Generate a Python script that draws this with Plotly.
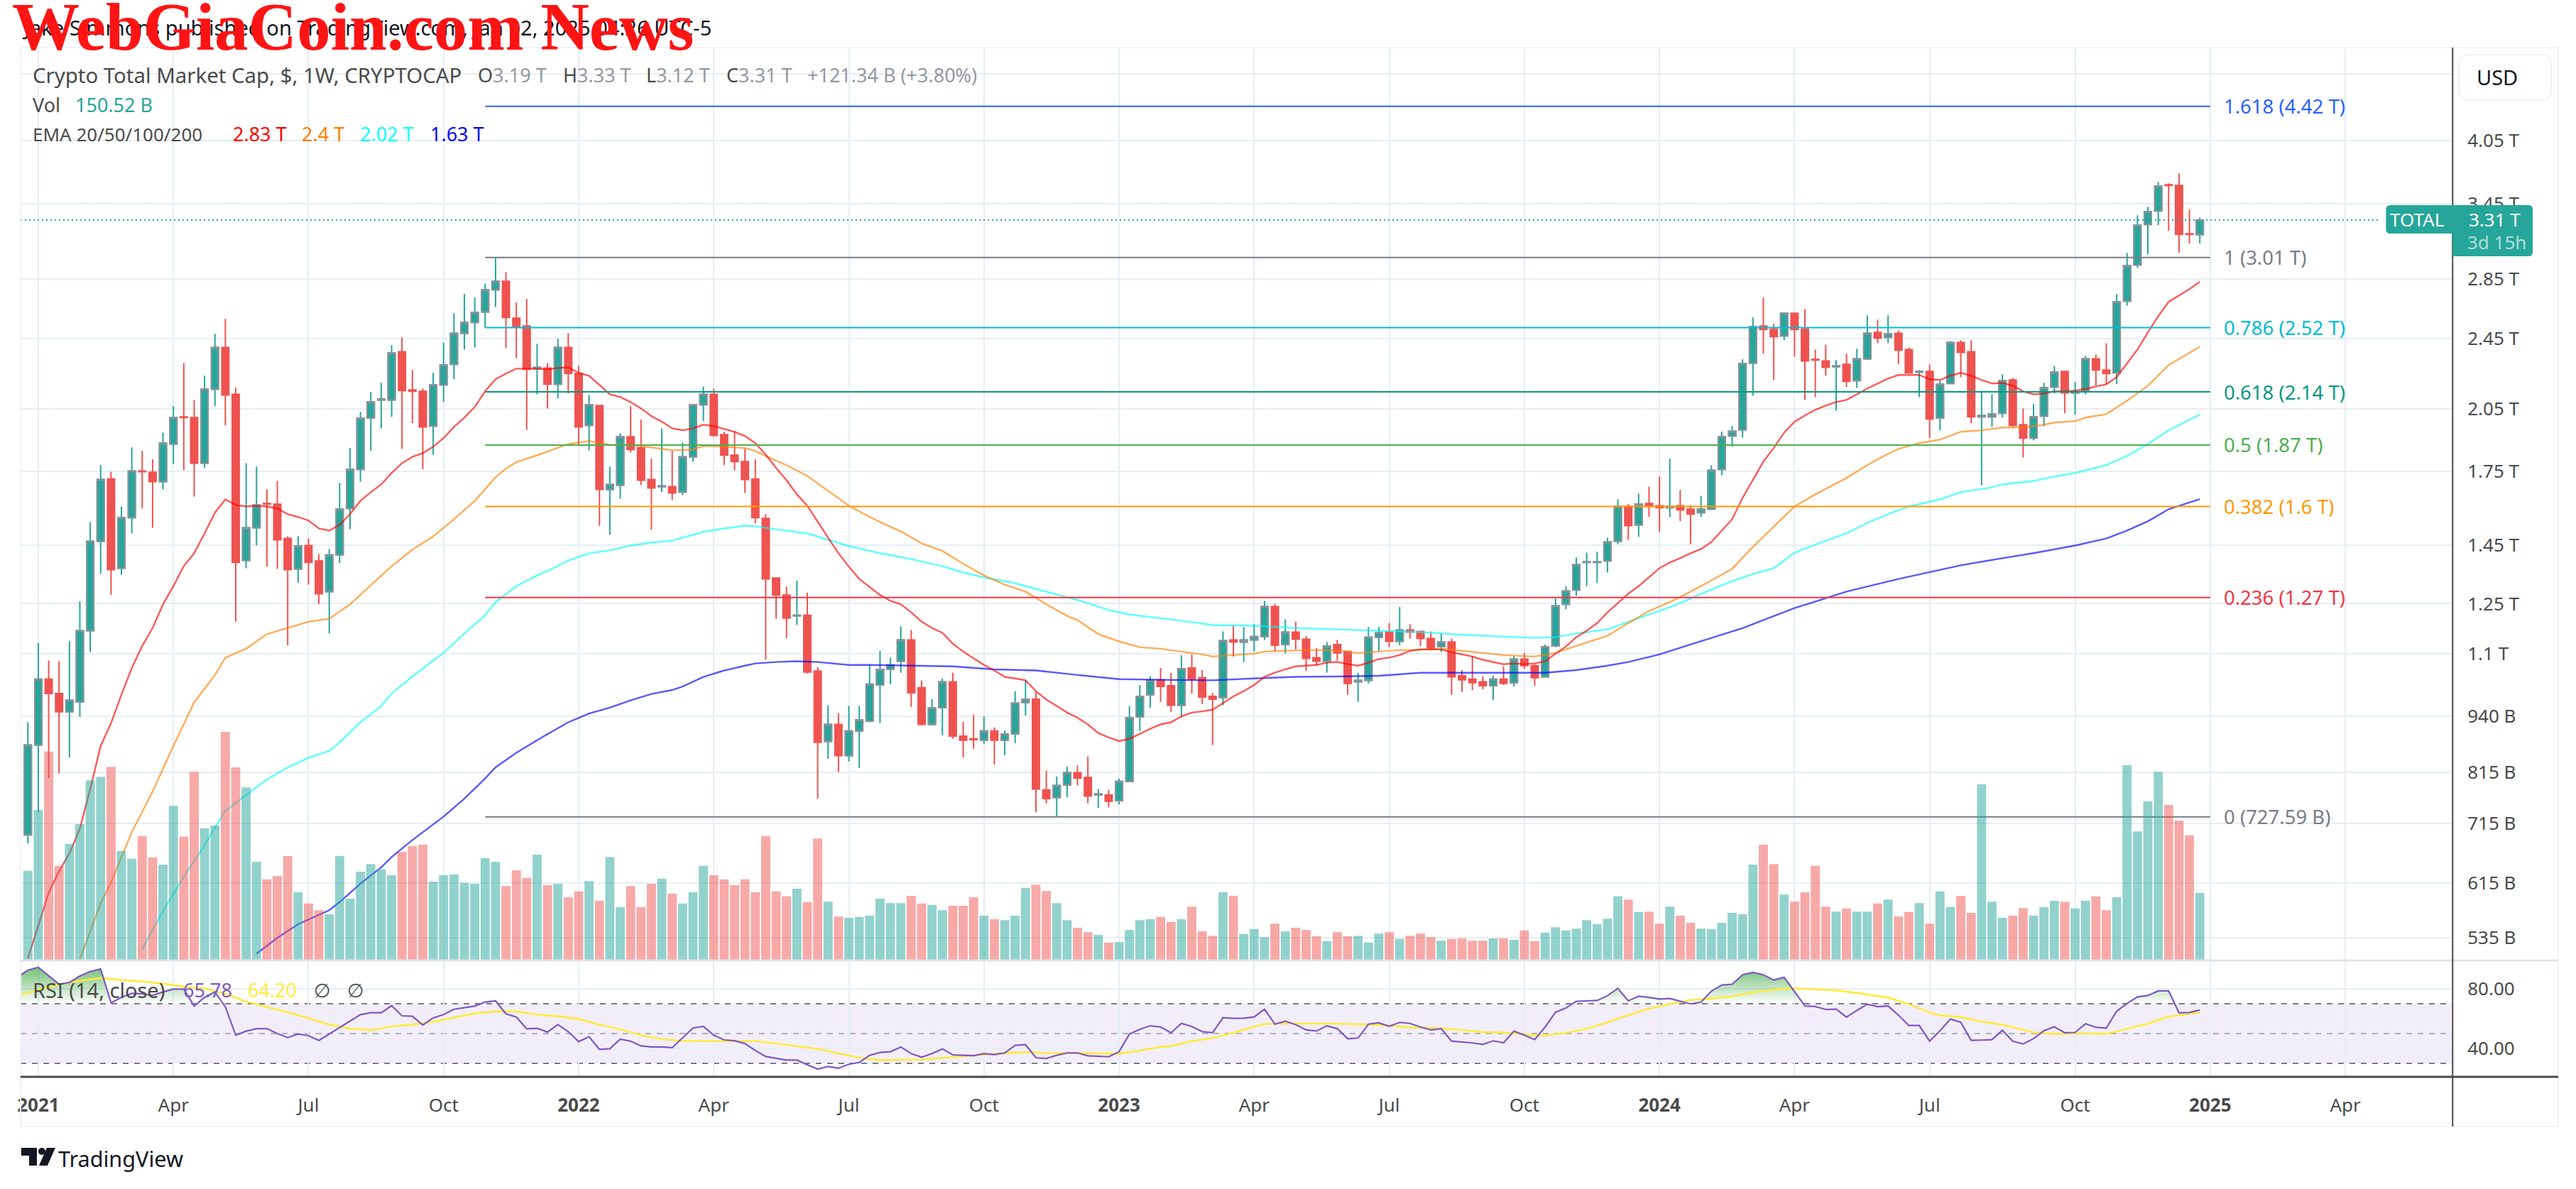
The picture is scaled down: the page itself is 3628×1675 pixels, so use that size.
import math
import pandas as pd
import plotly.graph_objects as go

W, H = 3628, 1675
FIRST_WEEK = pd.Timestamp("2020-12-28")

directions = ("GGRRGGGGRG" "GRRGGRRGGR" "RGGRRRGRRG" "GGGGGGRRRG" "GGGGGGRRRG"
              "RGRRGRGGRR" "RGRGGGRRRR" "RRRRGRRGRG" "GGGGGRRGGR" "RRGRGGGRRG"
              "GRRGRGGGGR" "RGRRRGRGGG" "RGRRRGRRGG" "GRGRRRGRRR" "RGRGRRGGGG"
              "GGGGRGRRGR" "RGGGGGGRRG" "RRRRGRGGRG" "RRGRGGRRGG" "GRRGGGRGGR"
              "RGGGGGRRRG")

highs = [.925,1.131,1.082,1.080,1.136,1.257,1.538,1.777,1.748,1.600,
 1.859,1.842,1.803,1.930,2.064,2.303,2.097,2.230,2.480,2.576,
 2.163,1.786,1.770,1.671,1.707,1.483,1.483,1.475,1.418,1.436,
 1.698,1.856,2.034,2.139,2.190,2.409,2.458,2.262,2.159,2.246,
 2.426,2.613,2.743,2.719,2.818,3.008,2.901,2.685,2.709,2.418,
 2.303,2.449,2.484,2.286,2.123,2.071,1.770,1.927,2.064,1.994,
 1.806,1.951,1.842,1.882,2.075,2.170,2.159,1.934,1.937,1.852,
 1.803,1.569,1.336,1.305,1.326,1.285,1.064,.966,.946,.964,
 .964,1.070,1.109,1.090,1.180,1.169,1.029,.981,1.034,1.049,
 .926,.943,.939,.913,.906,1.001,1.029,.999,.818,.806,
 .827,.829,.848,.781,.779,.802,.964,1.017,1.039,1.062,
 1.049,1.097,1.099,1.056,.997,1.165,1.182,1.178,1.186,1.259,
 1.250,1.201,1.194,1.152,1.117,1.134,1.140,1.109,1.049,1.178,
 1.178,1.190,1.239,1.186,1.167,1.165,1.159,1.144,1.056,1.095,
 1.039,1.041,1.066,1.095,1.103,1.072,1.127,1.268,1.307,1.405,
 1.423,1.426,1.478,1.629,1.609,1.653,1.683,1.726,1.806,1.668,
 1.606,1.644,1.777,1.934,1.962,2.324,2.585,2.719,2.544,2.618,
 2.618,2.641,2.383,2.413,2.320,2.358,2.387,2.599,2.571,2.599,
 2.502,2.396,2.262,2.295,2.202,2.435,2.440,2.440,2.147,2.127,
 2.238,2.218,2.052,2.075,2.190,2.286,2.258,2.194,2.345,2.353,
 2.422,2.743,3.046,3.351,3.424,3.647,3.634,3.727,3.399,3.33]

body_tops = [.873,1.032,1.032,.995,.978,1.167,1.465,1.713,1.716,1.555,
 1.751,1.751,1.745,1.879,2.005,2.009,2.005,2.155,2.396,2.396,
 2.127,1.516,1.606,1.612,1.609,1.475,1.447,1.449,1.393,1.415,
 1.589,1.758,2.002,2.086,2.101,2.362,2.370,2.151,2.143,2.178,
 2.291,2.484,2.553,2.618,2.773,2.834,2.834,2.580,2.530,2.278,
 2.274,2.396,2.396,2.242,2.071,2.067,1.692,1.910,1.910,1.856,
 1.713,1.686,1.683,1.815,2.071,2.127,2.127,1.920,1.822,1.793,
 1.716,1.552,1.334,1.278,1.214,1.214,1.053,.920,.920,.905,
 .931,1.019,1.058,1.070,1.140,1.140,1.010,.960,1.025,1.025,
 .893,.887,.905,.905,.898,.971,.981,.981,.779,.788,
 .814,.814,.804,.771,.769,.796,.936,.988,1.029,1.030,
 1.015,1.060,1.062,1.036,.988,1.138,1.140,1.140,1.150,1.241,
 1.241,1.163,1.163,1.142,1.090,1.123,1.127,1.107,1.029,1.148,
 1.161,1.163,1.169,1.169,1.165,1.144,1.134,1.134,1.041,1.032,
 1.025,1.032,1.032,1.086,1.086,1.068,1.121,1.243,1.291,1.380,
 1.390,1.390,1.462,1.600,1.600,1.609,1.612,1.603,1.600,1.603,
 1.589,1.589,1.754,1.910,1.937,2.299,2.525,2.530,2.511,2.613,
 2.613,2.511,2.324,2.315,2.286,2.295,2.328,2.484,2.489,2.480,
 2.484,2.383,2.254,2.254,2.182,2.426,2.426,2.370,2.016,2.023,
 2.202,2.206,1.969,2.009,2.163,2.250,2.254,2.139,2.328,2.328,
 2.262,2.690,2.949,3.268,3.381,3.608,3.621,3.615,3.198,3.31]

body_bottoms = [.695,.873,.995,.950,.950,.974,1.167,1.465,1.363,1.368,
 1.555,1.748,1.704,1.704,1.875,2.005,1.786,1.786,2.155,2.123,
 1.388,1.395,1.516,1.609,1.470,1.363,1.365,1.388,1.282,1.289,
 1.415,1.592,1.758,2.002,2.097,2.097,2.147,2.143,1.958,1.962,
 2.178,2.295,2.484,2.553,2.622,2.773,2.585,2.525,2.266,2.270,
 2.182,2.182,2.242,1.958,1.966,1.671,1.671,1.689,1.849,1.710,
 1.677,1.683,1.656,1.659,1.815,2.071,1.917,1.822,1.793,1.713,
 1.555,1.331,1.278,1.205,1.212,1.051,.879,.881,.850,.850,
 .905,.928,1.017,1.058,1.080,.997,.920,.920,.960,.893,
 .884,.885,.884,.884,.884,.898,.973,.781,.762,.764,
 .789,.803,.767,.769,.757,.758,.796,.938,.992,1.013,
 .966,.966,1.032,.986,.981,.985,1.134,1.134,1.140,1.150,
 1.125,1.127,1.142,1.088,1.080,1.080,1.103,1.021,1.025,1.029,
 1.148,1.136,1.136,1.163,1.144,1.117,1.121,1.038,1.030,1.023,
 1.015,1.015,1.021,1.023,1.068,1.036,1.038,1.123,1.248,1.294,
 1.388,1.388,1.393,1.465,1.524,1.527,1.600,1.595,1.595,1.586,
 1.569,1.575,1.589,1.758,1.913,1.944,2.303,2.507,2.462,2.467,
 2.507,2.315,2.320,2.278,2.282,2.198,2.202,2.328,2.453,2.458,
 2.379,2.246,2.250,1.998,2.002,2.186,2.366,2.009,2.009,2.009,
 2.027,1.966,1.903,1.903,2.012,2.167,2.135,2.135,2.147,2.262,
 2.242,2.246,2.694,2.954,3.274,3.387,3.615,3.192,3.192,3.19]

lows = [.680,.736,.803,.812,.846,.938,1.105,1.348,1.278,1.345,
 1.494,1.592,1.516,1.671,1.783,1.754,1.641,1.764,2.064,1.966,
 1.194,1.368,1.449,1.373,1.365,1.125,1.319,1.312,1.248,1.159,
 1.386,1.510,1.704,1.842,1.951,2.009,1.852,1.976,1.758,1.825,
 2.086,2.210,2.383,2.396,2.520,2.655,2.392,2.332,1.944,2.127,
 2.052,2.104,2.131,1.872,1.845,1.524,1.489,1.632,1.835,1.689,
 1.508,1.659,1.626,1.647,1.793,1.987,1.910,1.777,1.754,1.656,
 1.532,1.084,1.203,1.146,1.184,1.047,.762,.843,.815,.837,
 .824,.925,.923,1.019,1.049,.962,.918,.917,.895,.887,
 .846,.865,.876,.831,.851,.877,.941,.736,.753,.728,
 .765,.788,.753,.744,.745,.751,.795,.905,.960,.974,
 .950,.938,.995,.969,.873,.966,1.093,1.078,1.107,1.140,
 1.107,1.101,1.113,1.053,1.068,1.049,1.082,.992,.974,1.021,
 1.107,1.119,1.125,1.144,1.123,1.111,1.105,.992,.999,1.004,
 1.006,.978,1.017,1.013,1.060,1.015,1.036,1.119,1.232,1.275,
 1.307,1.317,1.353,1.454,1.470,1.481,1.558,1.500,1.558,1.541,
 1.454,1.558,1.586,1.732,1.862,1.906,2.119,2.358,2.206,2.440,
 2.341,2.097,2.112,2.230,2.041,2.167,2.163,2.320,2.422,2.422,
 2.295,2.242,2.112,1.903,1.941,2.182,2.222,1.976,1.689,1.958,
 2.005,1.958,1.812,1.892,1.962,2.131,2.027,2.020,2.127,2.174,
 2.182,2.182,2.665,2.933,3.035,3.268,3.221,3.046,3.118,3.12]

volumes_b = [200,336,466,211,260,304,402,410,432,244,
 227,277,230,214,345,276,421,295,301,510,
 431,386,220,181,188,233,152,127,112,103,
 233,138,198,215,203,190,242,255,258,176,
 190,192,173,171,228,220,166,201,184,236,
 168,171,141,154,177,133,231,119,166,119,
 171,182,149,127,152,211,190,181,168,181,
 152,277,154,143,160,130,272,131,98,95,
 97,100,138,128,128,144,127,124,112,122,
 122,141,100,92,90,100,162,169,155,128,
 90,73,63,57,40,41,68,90,92,97,
 86,92,120,65,55,152,144,59,70,52,
 82,65,73,68,54,43,63,54,55,40,
 60,63,48,55,60,52,44,48,49,44,
 44,49,49,46,67,43,62,74,67,71,
 90,81,93,143,136,108,109,82,120,100,
 84,71,70,84,106,103,214,258,215,147,
 131,152,211,120,109,116,109,109,127,136,
 98,108,128,82,154,119,144,106,393,131,
 95,100,117,100,119,133,131,116,133,143,
 112,141,436,288,355,421,347,312,279,150.52]

ema20 = [.508,.553,.600,.634,.663,.706,.781,.871,.923,.992,
 1.062,1.123,1.175,1.248,1.307,1.375,1.421,1.494,1.575,1.629,
 1.606,1.600,1.603,1.600,1.592,1.569,1.558,1.544,1.513,1.505,
 1.527,1.569,1.623,1.659,1.692,1.742,1.786,1.815,1.832,1.862,
 1.903,1.958,2.005,2.060,2.143,2.210,2.242,2.270,2.270,2.270,
 2.266,2.274,2.278,2.246,2.230,2.178,2.127,2.112,2.086,2.052,
 2.012,1.984,1.951,1.941,1.951,1.969,1.962,1.948,1.934,1.913,
 1.879,1.825,1.764,1.710,1.650,1.603,1.538,1.478,1.421,1.373,
 1.331,1.305,1.278,1.259,1.248,1.223,1.194,1.175,1.161,1.129,
 1.107,1.088,1.070,1.055,1.038,1.034,1.029,1.001,.980,.964,
 .948,.936,.920,.900,.890,.882,.887,.898,.910,.920,
 .925,.939,.948,.951,.955,.971,.988,1.001,1.017,1.038,
 1.049,1.058,1.066,1.068,1.070,1.076,1.078,1.072,1.068,1.076,
 1.086,1.090,1.097,1.109,1.113,1.113,1.113,1.105,1.099,1.093,
 1.084,1.078,1.072,1.074,1.072,1.074,1.080,1.101,1.121,1.148,
 1.167,1.190,1.223,1.252,1.282,1.307,1.338,1.368,1.388,1.403,
 1.421,1.436,1.462,1.505,1.549,1.635,1.713,1.793,1.856,1.930,
 1.984,2.016,2.045,2.067,2.086,2.097,2.127,2.159,2.186,2.214,
 2.234,2.234,2.234,2.210,2.206,2.230,2.246,2.230,2.206,2.186,
 2.190,2.174,2.143,2.127,2.131,2.143,2.143,2.147,2.155,2.170,
 2.182,2.222,2.299,2.383,2.489,2.594,2.690,2.733,2.778,2.83]

ema50_weeks = [5,7,8,10,12,14,16,18,19,21,23,25,27,29,31,33,35,37,39,41,43,45,46,47,49,50,52,54,56,58,
 60,62,64,65,66,69,70,71,73,75,77,79,81,82,84,86,88,90,92,94,96,98,100,101,103,105,107,109,111,113,
 114,116,118,119,121,123,125,127,128,130,132,133,136,140,142,145,147,149,152,154,156,158,160,162,164,
 166,168,169,170,172,175,177,179,180,182,184,186,188,190,192,194,195,197,198,200,202,204,206,208,209]
ema50 = [.507,.584,.616,.700,.776,.871,.973,1.043,1.090,1.115,1.157,1.175,1.194,1.203,1.248,1.310,1.375,1.434,1.483,1.549,1.623,1.723,1.761,1.790,1.822,1.839,1.875,1.889,1.872,1.869,
 1.859,1.845,1.849,1.865,1.865,1.856,1.842,1.819,1.777,1.729,1.665,1.603,1.558,1.538,1.502,1.457,1.429,1.383,1.343,1.312,1.289,1.248,1.212,1.199,1.157,1.136,1.119,1.115,1.107,1.099,
 1.093,1.097,1.101,1.107,1.109,1.111,1.111,1.107,1.103,1.107,1.111,1.111,1.115,1.103,1.097,1.093,1.103,1.123,1.152,1.190,1.227,1.255,1.289,1.326,1.366,
 1.444,1.521,1.561,1.600,1.650,1.720,1.777,1.829,1.852,1.879,1.896,1.934,1.941,1.955,1.955,1.969,1.980,1.987,2.005,2.023,2.093,2.174,2.291,2.362,2.40]

ema100_weeks = [11,13,15,17,19,21,23,25,27,29,30,32,34,35,37,39,40,42,44,45,47,49,50,52,54,56,58,60,62,65,
 67,69,70,72,75,77,79,82,85,88,90,92,95,97,99,102,104,106,110,114,118,122,126,130,134,138,142,145,147,149,
 152,154,156,158,160,162,164,166,168,170,173,175,177,179,181,184,186,189,190,193,195,197,200,202,204,206,209]
ema100 = [.52,.573,.625,.677,.739,.769,.800,.825,.845,.860,.879,.925,.964,.995,1.039,1.082,1.103,1.159,1.214,1.255,1.307,1.343,1.358,1.395,1.421,1.431,1.449,1.460,1.467,1.500,
 1.513,1.524,1.521,1.510,1.494,1.470,1.447,1.421,1.400,1.375,1.353,1.336,1.317,1.298,1.280,1.252,1.230,1.216,1.201,1.184,1.182,1.175,1.171,1.167,1.163,1.155,1.150,1.146,1.148,1.159,
 1.171,1.194,1.216,1.239,1.266,1.296,1.324,1.348,1.368,1.423,1.467,1.494,1.535,1.569,1.600,1.629,1.659,1.680,1.692,1.707,1.726,1.742,1.777,1.819,1.875,1.941,2.02]

ema200_weeks = [22,24,26,28,29,30,32,34,35,37,39,40,42,44,45,47,49,50,52,54,56,58,60,62,63,65,67,69,70,72,
 74,76,79,81,85,89,93,97,101,105,110,114,118,122,126,130,134,138,142,146,149,152,154,157,160,165,170,175,180,186,
 190,193,197,200,202,204,206,209]
ema200 = [.514,.535,.554,.567,.574,.586,.614,.640,.657,.686,.714,.728,.762,.802,.825,.856,.884,.897,.925,.946,.960,.978,.994,1.004,1.013,1.038,1.055,1.068,1.074,1.078,
 1.080,1.078,1.070,1.070,1.068,1.066,1.058,1.055,1.043,1.032,1.030,1.029,1.034,1.038,1.039,1.041,1.049,1.049,1.049,1.049,1.056,1.068,1.078,1.099,1.127,1.175,1.236,1.289,1.331,1.378,
 1.403,1.421,1.449,1.475,1.505,1.541,1.589,1.63]

# first value belongs to the week before the first visible candle
rsi = [87.8,
 92.5,94.4,88.6,83.0,84.3,88.6,91.7,93.3,70.6,74.3,
 77.0,76.7,75.6,77.9,79.8,79.8,68.4,74.3,77.9,67.9,
 48.9,51.6,53.3,53.3,50.0,47.3,49.7,48.6,45.4,49.7,
 54.4,58.4,62.7,64.0,64.0,68.7,61.9,61.6,55.7,60.5,
 62.7,66.3,67.5,68.4,71.1,71.9,63.2,61.1,53.2,53.5,
 51.0,56.0,51.3,44.6,47.8,39.4,39.8,46.2,44.9,41.7,
 41.0,41.0,40.5,47.3,53.7,54.8,48.9,45.7,45.2,43.3,
 38.6,34.6,33.5,32.2,32.2,29.0,26.2,27.9,26.7,29.4,
 30.6,35.4,37.3,37.8,41.0,36.5,34.1,36.5,39.7,35.7,
 35.4,35.2,36.5,35.9,37.0,42.1,42.5,33.8,33.3,35.4,
 37.0,37.0,35.1,34.9,34.4,37.8,49.7,52.9,55.2,54.4,
 50.5,56.8,54.8,51.3,50.5,60.6,60.2,60.3,61.1,66.3,
 56.3,58.3,56.0,52.4,51.7,55.2,53.3,46.5,47.0,56.3,
 57.2,54.9,57.5,56.8,54.4,52.4,53.3,44.9,44.3,43.7,
 42.7,45.1,43.8,51.6,48.9,46.0,54.4,64.3,67.1,71.6,
 71.9,72.2,75.4,80.3,71.9,75.1,74.2,73.2,73.5,71.6,
 69.9,71.1,78.4,82.6,83.1,89.4,91.0,89.4,85.9,87.7,
 78.1,68.5,68.1,66.2,66.4,61.0,65.5,69.7,68.0,68.5,
 62.4,55.4,55.4,44.9,51.9,59.7,57.5,45.4,45.6,45.9,
 52.2,44.9,43.0,46.6,51.9,54.5,50.5,50.7,56.6,54.2,
 53.6,65.0,70.2,74.6,75.5,78.6,78.6,63.9,64.1,65.78]

rsi_ma_weeks = [-1,2,3,5,7,9,11,13,15,17,19,21,23,25,27,29,31,33,35,37,39,41,43,45,47,49,51,53,55,57,59,61,63,65,67,70,72,74,76,78,80,82,84,86,
 89,92,95,97,98,100,103,105,107,109,110,112,114,116,118,119,121,123,126,129,131,133,136,138,140,142,144,145,146,148,150,152,154,
 156,158,160,161,164,166,169,170,174,176,179,181,183,184,186,188,190,193,195,198,200,202,204,206,209]
rsi_ma = [75.6,81.4,83.0,85.4,87.3,85.9,84.9,83.5,81.4,80.2,76.7,71.4,67.9,64.3,60.3,56.0,53.3,52.2,54.8,56.0,57.9,60.8,63.5,64.8,64.8,62.7,61.6,59.7,56.0,52.9,48.9,46.2,45.1,44.9,44.9,44.9,43.3,41.7,39.8,36.7,33.8,32.2,32.2,32.5,
 34.3,35.9,37.3,37.5,36.7,37.0,36.5,36.5,38.6,41.0,41.6,44.9,47.0,50.5,54.8,56.3,56.8,56.8,56.7,56.0,55.4,54.1,53.5,52.4,51.0,50.6,49.6,48.7,48.7,50.5,53.2,57.6,62.4,
 66.7,69.9,72.5,72.8,74.9,77.6,80.2,80.3,79.0,77.2,74.1,69.7,64.1,62.2,61.0,58.0,55.9,50.7,49.8,50.1,49.8,53.3,56.6,61.3,64.2]

fib_ratios = ["1.618", "1", "0.786", "0.618", "0.5", "0.382", "0.236", "0"]
fib_levels = [4.42, 3.01, 2.52, 2.14, 1.87, 1.60, 1.27, 0.72759]
fib_texts = ["4.42 T", "3.01 T", "2.52 T", "2.14 T", "1.87 T", "1.6 T", "1.27 T", "727.59 B"]
fib_colors = ["#2962ff", "#787b86", "#00bcd4", "#089981", "#4caf50", "#ff9800", "#f23645", "#787b86"]

price_tick_values = [4.80, 4.05, 3.45, 2.85, 2.45, 2.05, 1.75, 1.45, 1.25, 1.10, .94, .815, .715, .615, .535]
price_tick_labels = ["", "4.05 T", "3.45 T", "2.85 T", "2.45 T", "2.05 T", "1.75 T", "1.45 T", "1.25 T", "1.1 T",
                     "940 B", "815 B", "715 B", "615 B", "535 B"]
time_tick_dates = ["2021-01-04", "2021-04-05", "2021-07-05", "2021-10-04", "2022-01-03", "2022-04-04", "2022-07-04",
                   "2022-10-03", "2023-01-02", "2023-04-03", "2023-07-03", "2023-10-02", "2024-01-01", "2024-04-01",
                   "2024-07-01", "2024-10-07", "2025-01-06", "2025-04-07"]
time_tick_labels = ["<b>2021</b>", "Apr", "Jul", "Oct", "<b>2022</b>", "Apr", "Jul", "Oct", "<b>2023</b>", "Apr", "Jul",
                    "Oct", "<b>2024</b>", "Apr", "Jul", "Oct", "<b>2025</b>", "Apr"]

UP, DOWN = "#26a69a", "#ef5350"
GRID = "#e6eef4"
FONT = "Noto Sans"
TEXT = "#4a4a4a"


def week(i):
    return FIRST_WEEK + pd.Timedelta(days=7 * i)


def weeks(indices):
    return [week(i) for i in indices]


def px(x):
    return x / W


def py(y):
    return 1 - y / H


n = len(highs)
dates = weeks(range(n))
is_up = [d == "G" for d in directions]
opens = [b if u else t for u, t, b in zip(is_up, body_tops, body_bottoms)]
closes = [t if u else b for u, t, b in zip(is_up, body_tops, body_bottoms)]
up_idx = [i for i in range(n) if is_up[i]]

PANE_L, PANE_R, OUTER_R = 24, 3454, 3603
PANE_T, VOL_B, RSI_B, TIME_B = 67, 1353, 1517, 1587

fig = go.Figure()

# wicks and plain bodies
fig.add_trace(go.Candlestick(x=dates, open=opens, high=highs, low=lows, close=closes, xaxis="x2", yaxis="y",
                             increasing=dict(line=dict(color=UP, width=2), fillcolor=UP),
                             decreasing=dict(line=dict(color=DOWN, width=2), fillcolor=DOWN),
                             hoverinfo="skip", showlegend=False))
# up bodies carry a grey outline
fig.add_trace(go.Candlestick(x=[dates[i] for i in up_idx], open=[opens[i] for i in up_idx],
                             high=[closes[i] for i in up_idx], low=[opens[i] for i in up_idx],
                             close=[closes[i] for i in up_idx], xaxis="x2", yaxis="y",
                             increasing=dict(line=dict(color="#8e909a", width=2), fillcolor=UP),
                             hoverinfo="skip", showlegend=False))

for vals, xs, col in [(ema200, weeks(ema200_weeks), "rgba(0,0,255,.65)"),
                      (ema100, weeks(ema100_weeks), "rgba(0,255,255,.65)"),
                      (ema50, weeks(ema50_weeks), "rgba(255,128,0,.65)"),
                      (ema20, dates, "rgba(255,0,0,.65)")]:
    fig.add_trace(go.Scatter(x=xs, y=vals, mode="lines", line=dict(color=col, width=2.4), xaxis="x2", yaxis="y",
                             hoverinfo="skip", showlegend=False))

FIB_START, FIB_END = week(44), week(210)
for lvl, col in zip(fib_levels, fib_colors):
    fig.add_trace(go.Scatter(x=[FIB_START, FIB_END], y=[lvl, lvl], mode="lines", line=dict(color=col, width=2),
                             xaxis="x2", yaxis="y", hoverinfo="skip", showlegend=False))

X_START, X_END = "2020-12-23 01:30", "2025-06-18 07:00"
fig.add_trace(go.Scatter(x=[X_START, "2025-04-29"], y=[closes[-1], closes[-1]], mode="lines",
                         line=dict(color=UP, width=2, dash="2px,4px"), xaxis="x2", yaxis="y",
                         hoverinfo="skip", showlegend=False))

fig.add_trace(go.Bar(x=dates, y=volumes_b, xaxis="x2", yaxis="y3",
                     marker=dict(color=["rgba(38,166,154,.5)" if u else "rgba(239,83,80,.5)" for u in is_up],
                                 line=dict(width=0)),
                     hoverinfo="skip", showlegend=False))

rsi_dates = weeks(range(-1, n))
fig.add_trace(go.Scatter(x=rsi_dates, y=[70] * len(rsi), mode="lines", line=dict(width=0), xaxis="x", yaxis="y2",
                         hoverinfo="skip", showlegend=False))
fig.add_trace(go.Scatter(x=rsi_dates, y=[max(v, 70) for v in rsi], mode="lines", line=dict(width=0), fill="tonexty",
                         fillgradient=dict(type="vertical", start=70, stop=95,
                                           colorscale=[[0, "rgba(76,175,80,0)"], [1, "rgba(76,175,80,.8)"]]),
                         xaxis="x", yaxis="y2", hoverinfo="skip", showlegend=False))
fig.add_trace(go.Scatter(x=weeks(rsi_ma_weeks), y=rsi_ma, mode="lines", line=dict(color="#ffeb3b", width=2.6),
                         xaxis="x", yaxis="y2", hoverinfo="skip", showlegend=False))
fig.add_trace(go.Scatter(x=rsi_dates, y=rsi, mode="lines", line=dict(color="#7e57c2", width=2.2), xaxis="x", yaxis="y2",
                         hoverinfo="skip", showlegend=False))

shapes = []


def line(x0, y0, x1, y1, color, width):
    shapes.append(dict(type="line", xref="paper", yref="paper", x0=px(x0), y0=py(y0), x1=px(x1), y1=py(y1),
                       line=dict(color=color, width=width), layer="above"))


def round_box(x0, y0, x1, y1, fill, border=None, tl=6, tr=6, br=6, bl=6):
    p = (f"M {px(x0 + tl)} {py(y0)} L {px(x1 - tr)} {py(y0)} Q {px(x1)} {py(y0)} {px(x1)} {py(y0 + tr)} "
         f"L {px(x1)} {py(y1 - br)} Q {px(x1)} {py(y1)} {px(x1 - br)} {py(y1)} "
         f"L {px(x0 + bl)} {py(y1)} Q {px(x0)} {py(y1)} {px(x0)} {py(y1 - bl)} "
         f"L {px(x0)} {py(y0 + tl)} Q {px(x0)} {py(y0)} {px(x0 + tl)} {py(y0)} Z")
    shapes.append(dict(type="path", xref="paper", yref="paper", path=p, fillcolor=fill,
                       line=dict(color=border or fill, width=2 if border else 0), layer="above"))


# RSI band and levels
shapes.append(dict(type="rect", xref="x domain", yref="y2", x0=0, x1=1, y0=30, y1=70,
                   fillcolor="rgba(126,87,194,.1)", line=dict(width=0), layer="below"))
for lvl, col in [(70, "#787b86"), (50, "rgba(120,123,134,.55)"), (30, "#787b86")]:
    shapes.append(dict(type="line", xref="x domain", yref="y2", x0=0, x1=1, y0=lvl, y1=lvl,
                       line=dict(color=col, width=2, dash="8px,8px"), layer="below"))

# frame
line(PANE_L, PANE_T, OUTER_R, PANE_T, "#f0f3fa", 2)
line(PANE_L, PANE_T, PANE_L, TIME_B, "#f0f3fa", 2)
line(OUTER_R, PANE_T, OUTER_R, TIME_B, "#f0f3fa", 2)
line(PANE_L, TIME_B, OUTER_R, TIME_B, "#f0f3fa", 2)
line(PANE_L, VOL_B, OUTER_R, VOL_B, "#e0e3eb", 3)
line(PANE_L, RSI_B, OUTER_R, RSI_B, "#4a4a4a", 3)
line(PANE_R, PANE_T, PANE_R, TIME_B, "#4a4a4a", 2)

# USD button and price tag
round_box(3463, 77, 3593, 141, "#ffffff", "#f0f3fa", 14, 14, 14, 14)
round_box(3360, 289, 3456, 329, UP, None, 6, 0, 0, 6)
round_box(3454, 289, 3567, 361, UP, None, 0, 6, 6, 0)

# TradingView mark
shapes.append(dict(type="path", xref="paper", yref="paper", fillcolor="#131722", line=dict(width=0), layer="above",
                   path=f"M {px(25)} {py(1617)} L {px(47)} {py(1617)} L {px(47)} {py(1642)} L {px(36)} {py(1642)} "
                        f"L {px(36)} {py(1628)} L {px(25)} {py(1628)} Z"))
shapes.append(dict(type="path", xref="paper", yref="paper", fillcolor="#131722", line=dict(width=0), layer="above",
                   path=f"M {px(61)} {py(1617)} L {px(73)} {py(1617)} L {px(62)} {py(1642)} L {px(50)} {py(1642)} Z"))
shapes.append(dict(type="circle", xref="paper", yref="paper", fillcolor="#131722", line=dict(width=0), layer="above",
                   x0=px(49), x1=px(59), y0=py(1627), y1=py(1617)))

annotations = []
LEFT_PAD = 5


def note(text, x, y, size=27, color=TEXT, anchor="left", family=FONT):
    xpos = x - LEFT_PAD if anchor == "left" else x
    annotations.append(dict(text=text, x=px(xpos), y=py(y), xref="paper", yref="paper", xanchor=anchor,
                            yanchor="middle", showarrow=False, borderpad=0,
                            font=dict(family=family, size=size, color=color)))


# fib labels
for ratio, lvl, txt, col in zip(fib_ratios, fib_levels, fib_texts, fib_colors):
    annotations.append(dict(text=f"{ratio} ({txt})", x=px(3130), xref="paper", y=math.log10(lvl), yref="y",
                            xanchor="left", yanchor="middle", showarrow=False, borderpad=0,
                            font=dict(family=FONT, size=27.5, color=col)))

VALUE_GREY = "#9598a1"
note("Jake Simmons published on TradingView.com, Jan 02, 2025 04:26 UTC-5", 30, 39, 29.1, "#131722")
note("Crypto Total Market Cap, $, 1W, CRYPTOCAP", 45, 106, 29.4)
for label, value, x in [("O", "3.19 T", 673), ("H", "3.33 T", 793), ("L", "3.12 T", 910), ("C", "3.31 T", 1023)]:
    note(f"{label}<span style='color:{VALUE_GREY}'>{value}</span>", x, 106)
note("+121.34 B (+3.80%)", 1138, 106, 27, VALUE_GREY)
note("Vol", 45, 148)
note("150.52 B", 105, 148, 27, UP)
note("EMA 20/50/100/200", 45, 189, 26)
for value, x, col in [("2.83 T", 327, "#ff0000"), ("2.4 T", 425, "#ff8000"), ("2.02 T", 507, "#00ffff"),
                      ("1.63 T", 606, "#0000ff")]:
    note(value, x, 189, 27, col)
note("RSI (14, close)", 45, 1394, 29)
note("65.78", 257, 1394, 27, "#7e57c2")
note("64.20", 348, 1394, 27, "#ffeb3b")
note("∅", 442, 1394)
note("∅", 489, 1394)
note("USD", 3517, 108, 29, "#131722", "center")
note("TOTAL", 3404, 309, 26, "#ffffff", "center")
note("3.31 T", 3513, 309, 26, "#ffffff", "center")
note("3d 15h", 3516, 341, 26, "rgba(255,255,255,.65)", "center")
note("TradingView", 81, 1632, 30.6, "#131722")
note("<b>WebGiaCoin.com News</b>", 16, 38, 95, "#ff1414", family="Liberation Serif")

time_axis = dict(type="date", range=[X_START, X_END], domain=[px(PANE_L), px(PANE_R)], showgrid=True, gridcolor=GRID,
                 gridwidth=2, tickmode="array", tickvals=time_tick_dates, zeroline=False, showline=False, ticks="",
                 rangeslider=dict(visible=False))

fig.update_layout(
    width=W, height=H, autosize=False, margin=dict(l=0, r=0, t=0, b=0, pad=0),
    paper_bgcolor="#ffffff", plot_bgcolor="#ffffff", showlegend=False, barmode="overlay", bargap=0.12,
    boxgap=0.32, boxgroupgap=0.0, boxmode="overlay",
    xaxis=dict(time_axis, anchor="y2", ticktext=time_tick_labels, showticklabels=True, ticklabelstandoff=22,
               tickfont=dict(family=FONT, size=26, color=TEXT)),
    xaxis2=dict(time_axis, anchor="y", matches="x", showticklabels=False),
    yaxis=dict(type="log", domain=[py(VOL_B), py(PANE_T)], anchor="x2", side="right",
               range=[math.log10(0.5053), math.log10(5.13)], tickmode="array", tickvals=price_tick_values,
               ticktext=price_tick_labels, showgrid=True, gridcolor=GRID, gridwidth=2, zeroline=False, showline=False,
               ticks="", ticklabelstandoff=20, tickfont=dict(family=FONT, size=26, color=TEXT)),
    yaxis2=dict(domain=[py(RSI_B), py(VOL_B)], anchor="x", side="right", range=[20.95, 99.05], tickmode="array",
                tickvals=[80, 40], ticktext=["80.00", "40.00"], showgrid=True, gridcolor=GRID, gridwidth=2,
                zeroline=False, showline=False, ticks="", ticklabelstandoff=20,
                tickfont=dict(family=FONT, size=26, color=TEXT)),
    yaxis3=dict(overlaying="y", anchor="x2", side="right", range=[0, 2037], showgrid=False, showticklabels=False,
                zeroline=False, showline=False, ticks=""),
    shapes=shapes, annotations=annotations,
)

fig.write_html("out.html", config=dict(displayModeBar=False),
               post_script="document.body.style.margin='0';document.documentElement.style.overflow='hidden';")
